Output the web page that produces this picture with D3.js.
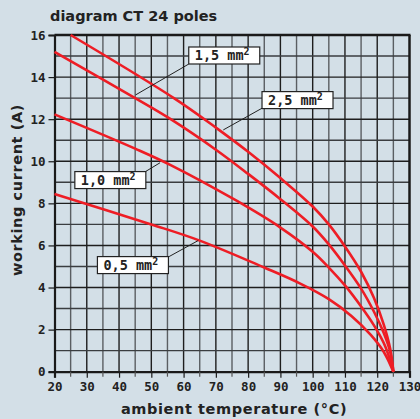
<!DOCTYPE html>
<html><head><meta charset="utf-8">
<script src="https://cdn.jsdelivr.net/npm/d3@7"></script>
<style>
html,body{margin:0;padding:0;background:#d3dfe7;}
svg{display:block;}
</style></head>
<body>
<script>
const xTicks = [20,30,40,50,60,70,80,90,100,110,120,130];
const yTicks = [0,2,4,6,8,10,12,14,16];
const s05 = [[20,8.44],[50,7.0],[65,6.23],[85,4.95],[96,4.2],[105,3.45],[112,2.65],[118,1.75],[122,0.95],[125,0]];
const s10 = [[20,12.23],[45,10.6],[56,9.82],[76,8.16],[90,6.85],[100,5.7],[105,4.95],[110,4.1],[115,3.1],[119,2.2],[122.5,1.2],[125,0]];
const s15 = [[25,16],[57,13.0],[70,11.6],[80,10.45],[90,9.2],[100,7.85],[105,7.0],[110,5.95],[115,4.75],[119,3.5],[122,2.25],[124,1.1],[125,0]];
const s25 = [[20,15.2],[45,13.0],[56,12.0],[70,10.55],[80,9.4],[90,8.2],[100,6.9],[105,6.05],[110,5.05],[115,3.95],[119,2.85],[122,1.85],[124,0.95],[125,0]];
const seriesData = [s05,s10,s15,s25];
const labelNames = ["1,5 mm","2,5 mm","1,0 mm","0,5 mm"];
const labelBoxes = [
  {name:labelNames[0], bx:61.6, by:15.43, sx:61.6, sy:14.62, ex:45.1, ey:13.15},
  {name:labelNames[1], bx:84.3, by:13.31, sx:84.3, sy:12.52, ex:72.3, ey:11.49},
  {name:labelNames[2], bx:26.3, by:9.51, sx:48.2, sy:9.51, ex:52.7, ey:9.93},
  {name:labelNames[3], bx:33.3, by:5.47, sx:55.5, sy:5.47, ex:64.5, ey:6.23}
];

const W=420,H=419;
const svg=d3.select("body").append("svg").attr("width",W).attr("height",H);
svg.append("rect").attr("width",W).attr("height",H).attr("fill","#d3dfe7");

const x=d3.scaleLinear().domain([20,130]).range([54.5,409.5]);
const y=d3.scaleLinear().domain([0,16]).range([371.7,35]);

const g=svg.append("g");
d3.range(25,130,5).forEach(v=>{
  g.append("line").attr("x1",x(v)).attr("x2",x(v)).attr("y1",y(16)).attr("y2",y(0))
   .attr("stroke", v%10===0?"#1e1e1e":"#5a5e62").attr("stroke-width",1.4);
});
d3.range(1,16,1).forEach(v=>{
  g.append("line").attr("x1",x(20)).attr("x2",x(130)).attr("y1",y(v)).attr("y2",y(v))
   .attr("stroke", v%2===0?"#1e1e1e":"#3a3d40").attr("stroke-width",1.4);
});

svg.append("line").attr("x1",x(20)).attr("x2",x(130)+1).attr("y1",y(16)).attr("y2",y(16)).attr("stroke","#1a1a1a").attr("stroke-width",2.5);
svg.append("line").attr("x1",x(130)).attr("x2",x(130)).attr("y1",y(16)).attr("y2",y(0)).attr("stroke","#1a1a1a").attr("stroke-width",2.5);

const fontMono="'DejaVu Sans Mono', monospace";
const yAxis=svg.append("g").attr("transform",`translate(${x(20)},0)`)
  .call(d3.axisLeft(y).tickValues(yTicks).tickSize(6).tickPadding(3).tickFormat(d3.format("d")));
const xAxis=svg.append("g").attr("transform",`translate(0,${y(0)})`)
  .call(d3.axisBottom(x).tickValues(xTicks).tickSize(6).tickPadding(4).tickFormat(d3.format("d")));
[yAxis,xAxis].forEach(a=>{
  a.select(".domain").attr("stroke","#1a1a1a").attr("stroke-width",2.2);
  a.selectAll(".tick line").attr("stroke","#1a1a1a").attr("stroke-width",1.2);
  a.selectAll("text").attr("fill","#222").style("font-family",fontMono).style("font-weight","bold").style("font-size","12.5px");
});
svg.append("g").selectAll("line").data(d3.range(25,130,10)).join("line")
  .attr("x1",d=>x(d)).attr("x2",d=>x(d)).attr("y1",y(0)).attr("y2",y(0)+5).attr("stroke","#555").attr("stroke-width",1.2);

const line=d3.line().x(d=>x(d[0])).y(d=>y(d[1])).curve(d3.curveCatmullRom.alpha(0.5));
svg.append("g").selectAll("path").data(seriesData).join("path")
  .attr("d",line).attr("fill","none").attr("stroke","#ee1d25").attr("stroke-width",2.6);

const lb=svg.append("g");
labelBoxes.forEach(b=>{
  lb.append("line").attr("x1",x(b.sx)).attr("y1",y(b.sy)).attr("x2",x(b.ex)).attr("y2",y(b.ey))
    .attr("stroke","#222").attr("stroke-width",1);
  const bx=x(b.bx), by=y(b.by);
  lb.append("rect").attr("x",bx).attr("y",by).attr("width",71).attr("height",17)
    .attr("fill","#fff").attr("stroke","#222").attr("stroke-width",1.2);
  const t=lb.append("text").attr("x",bx+6).attr("y",by+13.5)
    .style("font-family",fontMono).style("font-weight","bold").style("font-size","13.5px").attr("fill","#222");
  t.append("tspan").text(b.name);
  t.append("tspan").attr("dy",-5).style("font-size","10px").text("2");
});

svg.append("text").attr("x",50).attr("y",21).text("diagram CT 24 poles")
  .style("font-family","'DejaVu Sans', sans-serif").style("font-weight","bold").style("font-size","14.5px").attr("fill","#222");
svg.append("text").attr("x",234).attr("y",414).attr("text-anchor","middle").text("ambient temperature (°C)")
  .style("font-family","'DejaVu Sans', sans-serif").style("font-weight","bold").style("font-size","14.5px").attr("fill","#222")
  .style("letter-spacing","0.6px");
svg.append("text").attr("transform","translate(22,190) rotate(-90)").attr("text-anchor","middle").text("working current (A)")
  .style("font-family","'DejaVu Sans', sans-serif").style("font-weight","bold").style("font-size","14.5px").attr("fill","#222")
  .style("letter-spacing","0.6px");
</script>
</body></html>
